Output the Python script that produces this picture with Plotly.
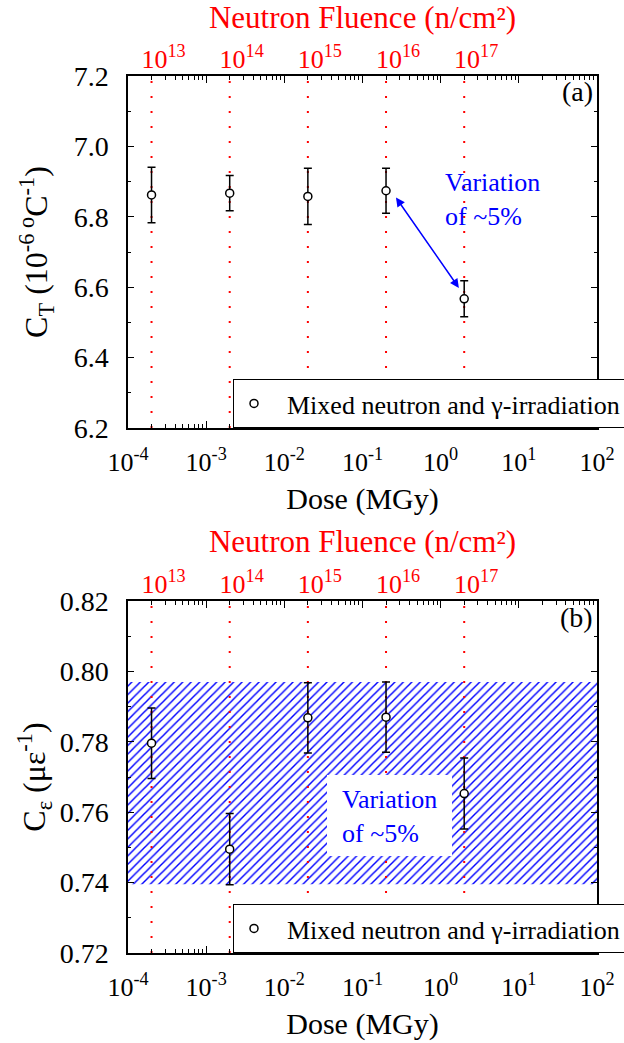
import math
import plotly.graph_objects as go

# Irradiation doses (MGy) and the matching neutron fluence labels
dose = [2e-4, 2e-3, 2e-2, 2e-1, 2.0]
fluence_labels = ["10<sup>13</sup>", "10<sup>14</sup>", "10<sup>15</sup>",
                  "10<sup>16</sup>", "10<sup>17</sup>"]

# Panel (a): temperature coefficient C_T (1e-6 / °C)
ct_value = [6.862, 6.867, 6.858, 6.874, 6.567]
ct_error = [0.079, 0.050, 0.080, 0.064, 0.051]

# Panel (b): strain coefficient C_eps (1 / micro-strain)
ce_value = [0.7796, 0.7495, 0.7868, 0.7870, 0.7653]
ce_error = [0.0100, 0.0101, 0.0100, 0.0100, 0.0101]
ce_band = [0.7395, 0.7970]

# Axis ranges and tick labels
dose_range = [1e-4, 1e2]
dose_ticks = [1e-4, 1e-3, 1e-2, 1e-1, 1e0, 1e1, 1e2]
dose_ticktext = ["10<sup>-4</sup>", "10<sup>-3</sup>", "10<sup>-2</sup>", "10<sup>-1</sup>",
                 "10<sup>0</sup>", "10<sup>1</sup>", "10<sup>2</sup>"]
ct_range = [6.2, 7.2]
ce_range = [0.72, 0.82]

# Ends of the double arrow between the last two C_T points (dose, C_T)
arrow_tail = [0.26, 6.859]
arrow_head = [1.71, 6.598]

FONT = "Liberation Serif, Times New Roman, serif"
RED = "#ff0000"
BLUE = "#0000ff"
W, H = 624, 1043
ML, MR, MT, MB = 128, 27, 76, 90

fig = go.Figure()

# hatched band spanning the C_eps variation
fig.add_trace(go.Scatter(
    x=[dose_range[0], dose_range[1], dose_range[1], dose_range[0], dose_range[0]],
    y=[ce_band[0], ce_band[0], ce_band[1], ce_band[1], ce_band[0]],
    xaxis="x2", yaxis="y2", mode="lines", fill="toself",
    line=dict(width=0), fillcolor="rgba(0,0,0,0)",
    fillpattern=dict(shape="/", fgcolor=BLUE, fgopacity=1, bgcolor="rgba(0,0,0,0)",
                     size=6, solidity=0.24),
    hoverinfo="skip", showlegend=False,
))

# red dotted guides at each dose for both panels
for d in dose:
    fig.add_trace(go.Scatter(x=[d, d], y=ct_range, xaxis="x", yaxis="y", mode="lines",
                             line=dict(color=RED, width=2, dash="2px,13px"),
                             hoverinfo="skip", showlegend=False))
    fig.add_trace(go.Scatter(x=[d, d], y=ce_range, xaxis="x2", yaxis="y2", mode="lines",
                             line=dict(color=RED, width=2, dash="2px,13px"),
                             hoverinfo="skip", showlegend=False))

marker = dict(symbol="circle", size=8, color="white", line=dict(color="black", width=1.5))
name = "\u00a0\u00a0Mixed neutron and γ-irradiation"

fig.add_trace(go.Scatter(
    x=dose, y=ct_value, xaxis="x", yaxis="y", mode="markers", marker=marker, name=name,
    error_y=dict(type="data", array=ct_error, color="black", thickness=1.5, width=4),
    legend="legend",
))
fig.add_trace(go.Scatter(
    x=dose, y=ce_value, xaxis="x2", yaxis="y2", mode="markers", marker=marker, name=name,
    error_y=dict(type="data", array=ce_error, color="black", thickness=1.5, width=4),
    legend="legend2",
))

# paper-coordinate helpers for the plotting area
def px(x):
    return (x - ML) / (W - ML - MR)

def py(y):
    return (H - MB - y) / (H - MT - MB)

tick_font = dict(family=FONT, size=26, color="black")
ytick_font = dict(family=FONT, size=28, color="black")
title_font = dict(family=FONT, size=30, color="black")
ytitle_font = dict(family=FONT, size=32, color="black")

def dose_axis(anchor):
    return dict(
        type="log", range=[math.log10(dose_range[0]), math.log10(dose_range[1])],
        anchor=anchor, domain=[0, 1],
        tickmode="array", tickvals=dose_ticks, ticktext=dose_ticktext,
        ticks="inside", ticklen=7, tickwidth=1.2, tickcolor="black",
        minor=dict(ticks="inside", ticklen=4, tickwidth=1, tickcolor="black", dtick="D1", showgrid=False),
        showline=True, linecolor="black", linewidth=1.5, mirror="ticks",
        showgrid=False, zeroline=False, tickfont=tick_font, ticklabelstandoff=10,
        title=dict(text="Dose (MGy)", font=title_font, standoff=12),
    )

def fluence_axis(overlay, anchor):
    return dict(
        type="log", range=[math.log10(dose_range[0]), math.log10(dose_range[1])],
        overlaying=overlay, anchor=anchor, side="top",
        tickmode="array", tickvals=dose, ticktext=fluence_labels,
        ticks="", showline=False, showgrid=False, zeroline=False,
        tickfont=dict(family=FONT, size=26, color=RED), ticklabelstandoff=2, ticklabelshift=12,
        title=dict(text="Neutron Fluence (n/cm²)", font=dict(family=FONT, size=31, color=RED), standoff=4),
    )

def value_axis(anchor, domain, rng, dtick, minor_dtick, fmt, title, standoff):
    return dict(
        range=rng, anchor=anchor, domain=domain,
        tickmode="linear", tick0=rng[0], dtick=dtick, tickformat=fmt,
        ticks="inside", ticklen=6, tickwidth=1.2, tickcolor="black",
        minor=dict(ticks="inside", ticklen=3, tickwidth=1, tickcolor="black", dtick=minor_dtick, showgrid=False),
        showline=True, linecolor="black", linewidth=1.5, mirror="ticks",
        showgrid=False, zeroline=False, tickfont=ytick_font, ticklabelstandoff=12,
        title=dict(text=title, font=ytitle_font, standoff=standoff),
    )

legend_style = dict(xanchor="left", yanchor="top", bgcolor="white", bordercolor="black", borderwidth=1,
                    font=dict(family=FONT, size=26, color="black"), itemwidth=30, tracegroupgap=0)

fig.update_layout(
    width=W, height=H,
    margin=dict(l=ML, r=MR, t=MT, b=MB, autoexpand=False),
    paper_bgcolor="white", plot_bgcolor="white",
    font=dict(family=FONT, size=26, color="black"),
    xaxis=dose_axis("y"),
    xaxis2=dose_axis("y2"),
    xaxis3=fluence_axis("x", "y"),
    xaxis4=fluence_axis("x2", "y2"),
    yaxis=value_axis("x", [py(428), 1], ct_range, 0.2, 0.1, ".1f",
                     "C<sub>T</sub> (10<sup>-6 o</sup>C<sup>-1</sup>)", 16),
    yaxis2=value_axis("x2", [0, py(601)], ce_range, 0.02, 0.01, ".2f",
                      "C<sub>ε</sub> (με<sup>-1</sup>)", 4),
    legend=dict(x=px(233), y=py(379), **legend_style),
    legend2=dict(x=px(233), y=py(904), **legend_style),
    showlegend=True,
)

# placeholder traces so the fluence axes are drawn
for ax in ("x3", "x4"):
    fig.add_trace(go.Scatter(x=[dose[0]], y=[None], xaxis=ax, yaxis="y" if ax == "x3" else "y2",
                             mode="markers", showlegend=False, hoverinfo="skip"))

# double-headed arrow marking the C_T drop
fig.add_annotation(
    x=math.log10(arrow_head[0]), y=arrow_head[1], ax=math.log10(arrow_tail[0]), ay=arrow_tail[1],
    xref="x", yref="y", axref="x", ayref="y", text="", showarrow=True,
    arrowhead=2, startarrowhead=2, arrowside="end+start", arrowsize=1.2, startarrowsize=1.2,
    arrowwidth=1.5, arrowcolor=BLUE,
)
fig.add_annotation(x=px(443), y=py(200), xref="paper", yref="paper", xanchor="left", yanchor="middle",
                   align="left", showarrow=False, text="Variation<br>of ~5%",
                   font=dict(family=FONT, size=26, color=BLUE))

# white box behind the panel (b) note
fig.add_shape(type="rect", xref="paper", yref="paper", x0=px(327), x1=px(452), y0=py(856), y1=py(775),
              fillcolor="white", line=dict(width=0), layer="above")
fig.add_annotation(x=px(340), y=py(816), xref="paper", yref="paper", xanchor="left", yanchor="middle",
                   align="left", showarrow=False, text="Variation<br>of ~5%",
                   font=dict(family=FONT, size=26, color=BLUE))

# panel labels
fig.add_annotation(x=px(595), y=py(92), xref="paper", yref="paper", xanchor="right", yanchor="middle",
                   showarrow=False, text="(a)", font=dict(family=FONT, size=28, color="black"))
fig.add_annotation(x=px(595), y=py(617), xref="paper", yref="paper", xanchor="right", yanchor="middle",
                   showarrow=False, text="(b)", font=dict(family=FONT, size=28, color="black"))

fig.write_html("out.html")
